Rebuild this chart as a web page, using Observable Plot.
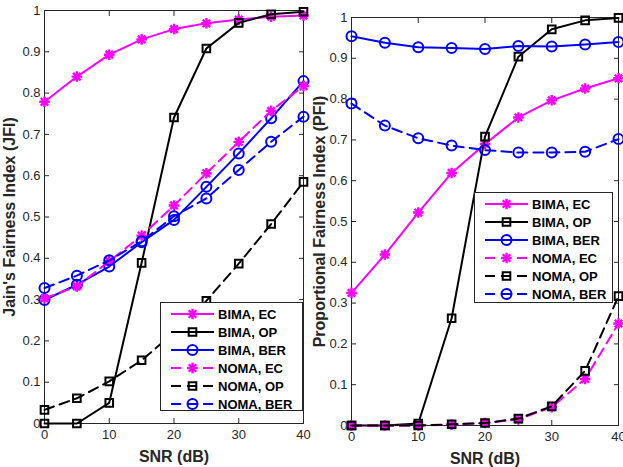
<!DOCTYPE html>
<html><head><meta charset="utf-8">
<script src="https://cdn.jsdelivr.net/npm/d3@7"></script>
<script src="https://cdn.jsdelivr.net/npm/@observablehq/plot@0.6"></script>
<style>
body{margin:0;background:#fff;}
#wrap{position:relative;width:623px;height:467px;font-family:"Liberation Sans",Arial,sans-serif;overflow:hidden;}
.panel{position:absolute;top:0;}
.panel svg{overflow:visible;}
g[aria-label="x-axis tick label"], g[aria-label="y-axis tick label"]{font-size:13px;fill:#262626;}
g[aria-label="x-axis label"], g[aria-label="y-axis label"]{font-size:16px;font-weight:bold;fill:#262626;}
.legend{position:absolute;background:#fff;border:1px solid #262626;box-sizing:border-box;padding-top:2px;}
.legend .row{display:flex;align-items:center;height:18px;font-size:13px;font-weight:bold;color:#000;white-space:nowrap;}
.legend .row svg{flex:none;}
</style></head><body><div id="wrap"></div>
<script>
// ---- data ----
const snr = [0, 5, 10, 15, 20, 25, 30, 35, 40];
const xTicks = [0, 10, 20, 30, 40];
const yTicks = [0, 0.1, 0.2, 0.3, 0.4, 0.5, 0.6, 0.7, 0.8, 0.9, 1];
const seriesNames = ["BIMA, EC", "BIMA, OP", "BIMA, BER", "NOMA, EC", "NOMA, OP", "NOMA, BER"];

// Jain's Fairness Index (left)
const jfiBimaEC  = [0.779, 0.840, 0.893, 0.930, 0.955, 0.969, 0.978, 0.985, 0.988];
const jfiBimaOP  = [0.000, 0.000, 0.050, 0.389, 0.741, 0.908, 0.970, 0.991, 0.997];
const jfiBimaBER = [0.299, 0.336, 0.380, 0.439, 0.493, 0.573, 0.654, 0.739, 0.829];
const jfiNomaEC  = [0.303, 0.332, 0.393, 0.455, 0.528, 0.606, 0.682, 0.757, 0.817];
const jfiNomaOP  = [0.033, 0.061, 0.102, 0.153, 0.220, 0.297, 0.387, 0.483, 0.585];
const jfiNomaBER = [0.328, 0.358, 0.395, 0.441, 0.502, 0.545, 0.614, 0.682, 0.743];

// Proportional Fairness Index (right)
const pfiBimaEC  = [0.325, 0.419, 0.522, 0.619, 0.690, 0.755, 0.797, 0.826, 0.851];
const pfiBimaOP  = [0.000, 0.000, 0.005, 0.263, 0.708, 0.904, 0.971, 0.993, 0.999];
const pfiBimaBER = [0.954, 0.938, 0.927, 0.925, 0.923, 0.930, 0.929, 0.934, 0.940];
const pfiNomaEC  = [0.000, 0.000, 0.000, 0.002, 0.006, 0.015, 0.045, 0.114, 0.250];
const pfiNomaOP  = [0.000, 0.000, 0.000, 0.003, 0.006, 0.017, 0.047, 0.134, 0.317];
const pfiNomaBER = [0.789, 0.735, 0.704, 0.686, 0.675, 0.669, 0.669, 0.671, 0.702];

// ---- styles ----
const MAG = "#FF00FF", BLK = "#000000", BLU = "#0000FF";
const colors  = [MAG, BLK, BLU, MAG, BLK, BLU];
const markers = ["star", "square", "circle", "star", "square", "circle"];
const dashed  = [false, false, false, true, true, true];
const DASH = "10,6";
const STAR_R = 3.5;

function seriesMarks(vals, k) {
  const data = snr.map((x, i) => ({x, y: vals[i]}));
  const c = colors[k];
  const marks = [Plot.line(data, {x: "x", y: "y", stroke: c, strokeWidth: 2, strokeDasharray: dashed[k] ? DASH : null})];
  if (markers[k] === "star") {
    marks.push(Plot.dot(data, {x: "x", y: "y", symbol: "plus", r: STAR_R, stroke: c, strokeWidth: 2.4, fill: "none"}));
    marks.push(Plot.dot(data, {x: "x", y: "y", symbol: "times", r: STAR_R, stroke: c, strokeWidth: 2.4, fill: "none"}));
  } else if (markers[k] === "square") {
    marks.push(Plot.dot(data, {x: "x", y: "y", symbol: "square", r: 4.3, stroke: c, strokeWidth: 2, fill: "none"}));
  } else {
    marks.push(Plot.dot(data, {x: "x", y: "y", symbol: "circle", r: 5, stroke: c, strokeWidth: 2, fill: "none"}));
  }
  return marks;
}

function panel(seriesVals, ylabel, geom) {
  const marks = [
    Plot.frame({stroke: "#262626", strokeWidth: 1}),
    Plot.axisX({ticks: xTicks, tickSize: -5, tickPadding: 11, tickFormat: d => String(d), stroke: "#262626",
      label: "SNR (dB)", labelAnchor: "center", labelArrow: "none", labelOffset: 38}),
    Plot.axisX({anchor: "top", ticks: xTicks, tickSize: -5, tickFormat: () => "", label: null, stroke: "#262626"}),
    Plot.axisY({ticks: yTicks, tickSize: -5, tickPadding: 9, tickFormat: d => String(d), stroke: "#262626",
      label: ylabel, labelAnchor: "center", labelArrow: "none", labelOffset: geom.labelOffset}),
    Plot.axisY({anchor: "right", ticks: yTicks, tickSize: -5, tickFormat: () => "", label: null, stroke: "#262626"})
  ];
  seriesVals.forEach((v, k) => marks.push(...seriesMarks(v, k)));
  return Plot.plot({
    width: geom.width, height: 467,
    marginLeft: geom.ml, marginRight: geom.mr, marginTop: geom.mt, marginBottom: geom.mb,
    x: {domain: [0, 40]},
    y: {domain: [0, 1]},
    style: {fontFamily: '"Liberation Sans", Arial, sans-serif', background: "transparent", overflow: "visible"},
    marks
  });
}

function legend(left, top, width, height) {
  const div = document.createElement("div");
  div.className = "legend";
  Object.assign(div.style, {left: left + "px", top: top + "px", width: width + "px", height: height + "px"});
  seriesNames.forEach((name, k) => {
    const row = document.createElement("div");
    row.className = "row";
    const svg = d3.create("svg").attr("width", 57).attr("height", 18);
    const c = colors[k];
    svg.append("line").attr("x1", 10).attr("x2", 53).attr("y1", 9).attr("y2", 9)
      .attr("stroke", c).attr("stroke-width", 2).attr("stroke-dasharray", dashed[k] ? DASH : null);
    const g = svg.append("g").attr("transform", "translate(31.5,9)").attr("stroke", c).attr("fill", "none");
    if (markers[k] === "star") {
      g.attr("stroke-width", 2.4);
      g.append("path").attr("d", d3.symbol(d3.symbolPlus, Math.PI * STAR_R * STAR_R)());
      g.append("path").attr("d", d3.symbol(d3.symbolTimes, Math.PI * STAR_R * STAR_R)());
    } else if (markers[k] === "square") {
      g.attr("stroke-width", 2);
      g.append("path").attr("d", d3.symbol(d3.symbolSquare, Math.PI * 4.3 * 4.3)());
    } else {
      g.attr("stroke-width", 2);
      g.append("circle").attr("r", 5);
    }
    row.appendChild(svg.node());
    const span = document.createElement("span");
    span.textContent = name;
    row.appendChild(span);
    div.appendChild(row);
  });
  return div;
}

const wrap = document.getElementById("wrap");

const left = document.createElement("div");
left.className = "panel"; left.style.left = "0px";
left.appendChild(panel([jfiBimaEC, jfiBimaOP, jfiBimaBER, jfiNomaEC, jfiNomaOP, jfiNomaBER],
  "Jain's Fairness Index (JFI)", {width: 310, ml: 44, mr: 7, mt: 10, mb: 44, labelOffset: 41}));
wrap.appendChild(left);

const right = document.createElement("div");
right.className = "panel"; right.style.left = "310px";
right.appendChild(panel([pfiBimaEC, pfiBimaOP, pfiBimaBER, pfiNomaEC, pfiNomaOP, pfiNomaBER],
  "Proportional Fairness Index (PFI)", {width: 313, ml: 41, mr: 5, mt: 17, mb: 42, labelOffset: 38}));
wrap.appendChild(right);

wrap.appendChild(legend(160, 302, 143, 109));
wrap.appendChild(legend(474, 192, 139, 111));
</script>
</body></html>
